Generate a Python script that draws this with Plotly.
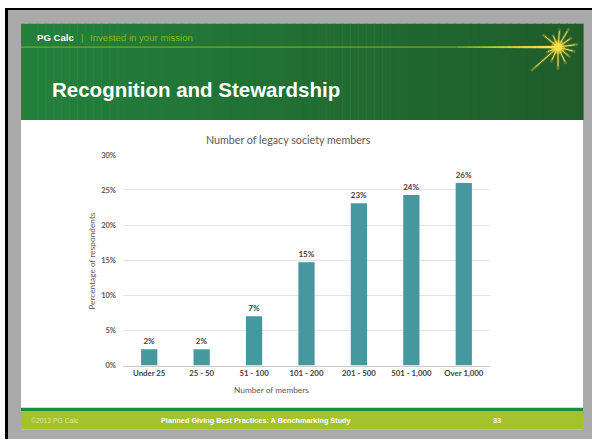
import math
import plotly.graph_objects as go

# Survey results: share of respondents by legacy society size
categories = ["Under 25", "25 - 50", "51 - 100", "101 - 200", "201 - 500", "501 - 1,000", "Over 1,000"]
shares = [0.023, 0.023, 0.070, 0.147, 0.231, 0.243, 0.260]
y_ticks = [0, 0.05, 0.10, 0.15, 0.20, 0.25, 0.30]
y_tick_labels = ["0%", "5%", "10%", "15%", "20%", "25%", "30%"]

W, H = 592, 444


def px(x):
    return x / W


def py(y):
    return 1 - y / H


def rect(x0, y0, x1, y1, color, layer="below"):
    return dict(type="rect", xref="paper", yref="paper",
                x0=px(x0), x1=px(x1), y0=py(y1), y1=py(y0),
                fillcolor=color, line=dict(width=0), layer=layer)


def line(x0, y0, x1, y1, color, width=1, layer="above"):
    return dict(type="line", xref="paper", yref="paper",
                x0=px(x0), x1=px(x1), y0=py(y0), y1=py(y1),
                line=dict(color=color, width=width), layer=layer)


def mix(c1, c2, t):
    a = [int(c1[i:i + 2], 16) for i in (1, 3, 5)]
    b = [int(c2[i:i + 2], 16) for i in (1, 3, 5)]
    return "rgb({},{},{})".format(*[round(a[k] + (b[k] - a[k]) * t) for k in range(3)])


shapes = []
# slide frame
shapes.append(rect(5, 4, 592, 444, "#aaaaaa"))
shapes.append(rect(5, 4, 8, 444, "#000000"))
shapes.append(rect(5, 4, 592, 6, "#000000"))
shapes.append(rect(21, 20, 583, 434, "#ffffff"))

# header band with horizontal gradient
n_strips = 70
x_left, x_right = 21, 583
for i in range(n_strips):
    xa = x_left + (x_right - x_left) * i / n_strips
    xb = x_left + (x_right - x_left) * (i + 1) / n_strips + 0.6
    shapes.append(rect(xa, 20, xb, 118.5, mix("#23813c", "#1f5c2a", i / (n_strips - 1))))

# thin rule under the brand line, fading into the star
shapes.append(line(21, 44, 458, 44, "#86b81f", 1))
for i in range(20):
    xa = 458 + 100 * i / 20
    xb = 458 + 100 * (i + 1) / 20
    shapes.append(line(xa, 44, xb, 44, mix("#86b81f", "#ffe36a", i / 19), 1.4 + i * 0.06))

# star burst: soft glow pass then bright core pass
cx, cy = 558, 44
rays = [(8, 20), (35, 17), (60, 22), (85, 19), (112, 14), (140, 20), (205, 13),
        (222, 36), (245, 17), (270, 23), (295, 19), (320, 16), (345, 18)]
for ang, ln in rays:
    a = math.radians(ang)
    ex, ey = cx + ln * math.cos(a), cy - ln * math.sin(a)
    shapes.append(line(cx, cy, ex, ey, "rgba(235,200,60,0.35)", 2.6))
for ang, ln in rays:
    a = math.radians(ang)
    ex, ey = cx + 0.85 * ln * math.cos(a), cy - 0.85 * ln * math.sin(a)
    shapes.append(line(cx, cy, ex, ey, "rgba(250,225,90,0.9)", 1.0))
shapes.append(dict(type="circle", xref="paper", yref="paper",
                   x0=px(cx - 7), x1=px(cx + 7), y0=py(cy + 7), y1=py(cy - 7),
                   fillcolor="rgba(255,215,60,0.45)", line=dict(width=0)))
shapes.append(dict(type="circle", xref="paper", yref="paper",
                   x0=px(cx - 4), x1=px(cx + 4), y0=py(cy + 4), y1=py(cy - 4),
                   fillcolor="#ffdf4a", line=dict(width=0)))

# footer bands
shapes.append(rect(21, 412, 583, 415.5, "#238a3a"))
shapes.append(rect(21, 415.5, 583, 434, "#a3c22b"))

fig = go.Figure(go.Bar(
    x=categories, y=shares,
    marker=dict(color="#46989f", line=dict(width=0)),
    width=0.31,
    texttemplate="<b>%{y:.0%}</b>", textposition="outside",
    textfont=dict(family="Lato", size=8, color="#404040"),
    cliponaxis=False,
))

annotations = [
    dict(text="<b>PG Calc</b>", x=px(35), y=py(34), font=dict(family="Liberation Sans", size=9.6, color="#ffffff")),
    dict(text="|", x=px(79), y=py(34), font=dict(family="Liberation Sans", size=9.6, color="#86b81f")),
    dict(text="Invested in your mission", x=px(87.5), y=py(34), font=dict(family="Liberation Sans", size=9.6, color="#86b81f")),
    dict(text="<b>Recognition and Stewardship</b>", x=px(50), y=py(87), font=dict(family="Liberation Sans", size=20.5, color="#ffffff")),
    dict(text="©2013 PG Calc", x=px(29), y=py(425), font=dict(family="Liberation Sans", size=6.8, color="#dfeaa8")),
    dict(text="<b>Planned Giving Best Practices: A Benchmarking Study</b>", x=px(256), y=py(425), xanchor="center",
         font=dict(family="Liberation Sans", size=7.3, color="#ffffff")),
    dict(text="<b>33</b>", x=px(497), y=py(425), xanchor="center", font=dict(family="Liberation Sans", size=7.3, color="#ffffff")),
    dict(text="Number of legacy society members", x=px(288), y=py(138), xanchor="center",
         font=dict(family="Lato", size=10.7, color="#595959")),
    dict(text="Number of members", x=px(271), y=py(394), xanchor="center",
         font=dict(family="Lato", size=8.3, color="#595959")),
    dict(text="Percentage of respondents", x=px(92), y=py(262), xanchor="center", textangle=-90,
         font=dict(family="Lato", size=8.3, color="#595959")),
]
for a in annotations:
    a.setdefault("xanchor", "left")
    a.update(xref="paper", yref="paper", yanchor="middle", showarrow=False)

fig.update_layout(
    width=W, height=H,
    margin=dict(l=0, r=0, t=0, b=0),
    paper_bgcolor="#ffffff", plot_bgcolor="rgba(0,0,0,0)",
    showlegend=False,
    shapes=shapes,
    annotations=annotations,
    xaxis=dict(domain=[px(123), px(490)], showgrid=False, showline=True, linecolor="#c8c8c8", linewidth=1,
               ticks="", tickfont=dict(family="Lato", size=7.8, color="#404040", weight="bold"),
               fixedrange=True),
    yaxis=dict(domain=[py(369), py(154)], range=[0, 0.30], tickvals=y_ticks, ticktext=y_tick_labels,
               showgrid=True, gridcolor="#e4e4e4", gridwidth=1, zeroline=False, showline=False,
               ticks="", ticklabelstandoff=6,
               tickfont=dict(family="Lato", size=7.5, color="#595959", weight="bold"),
               fixedrange=True),
    bargap=0.69,
)

fig.write_html("out.html")
